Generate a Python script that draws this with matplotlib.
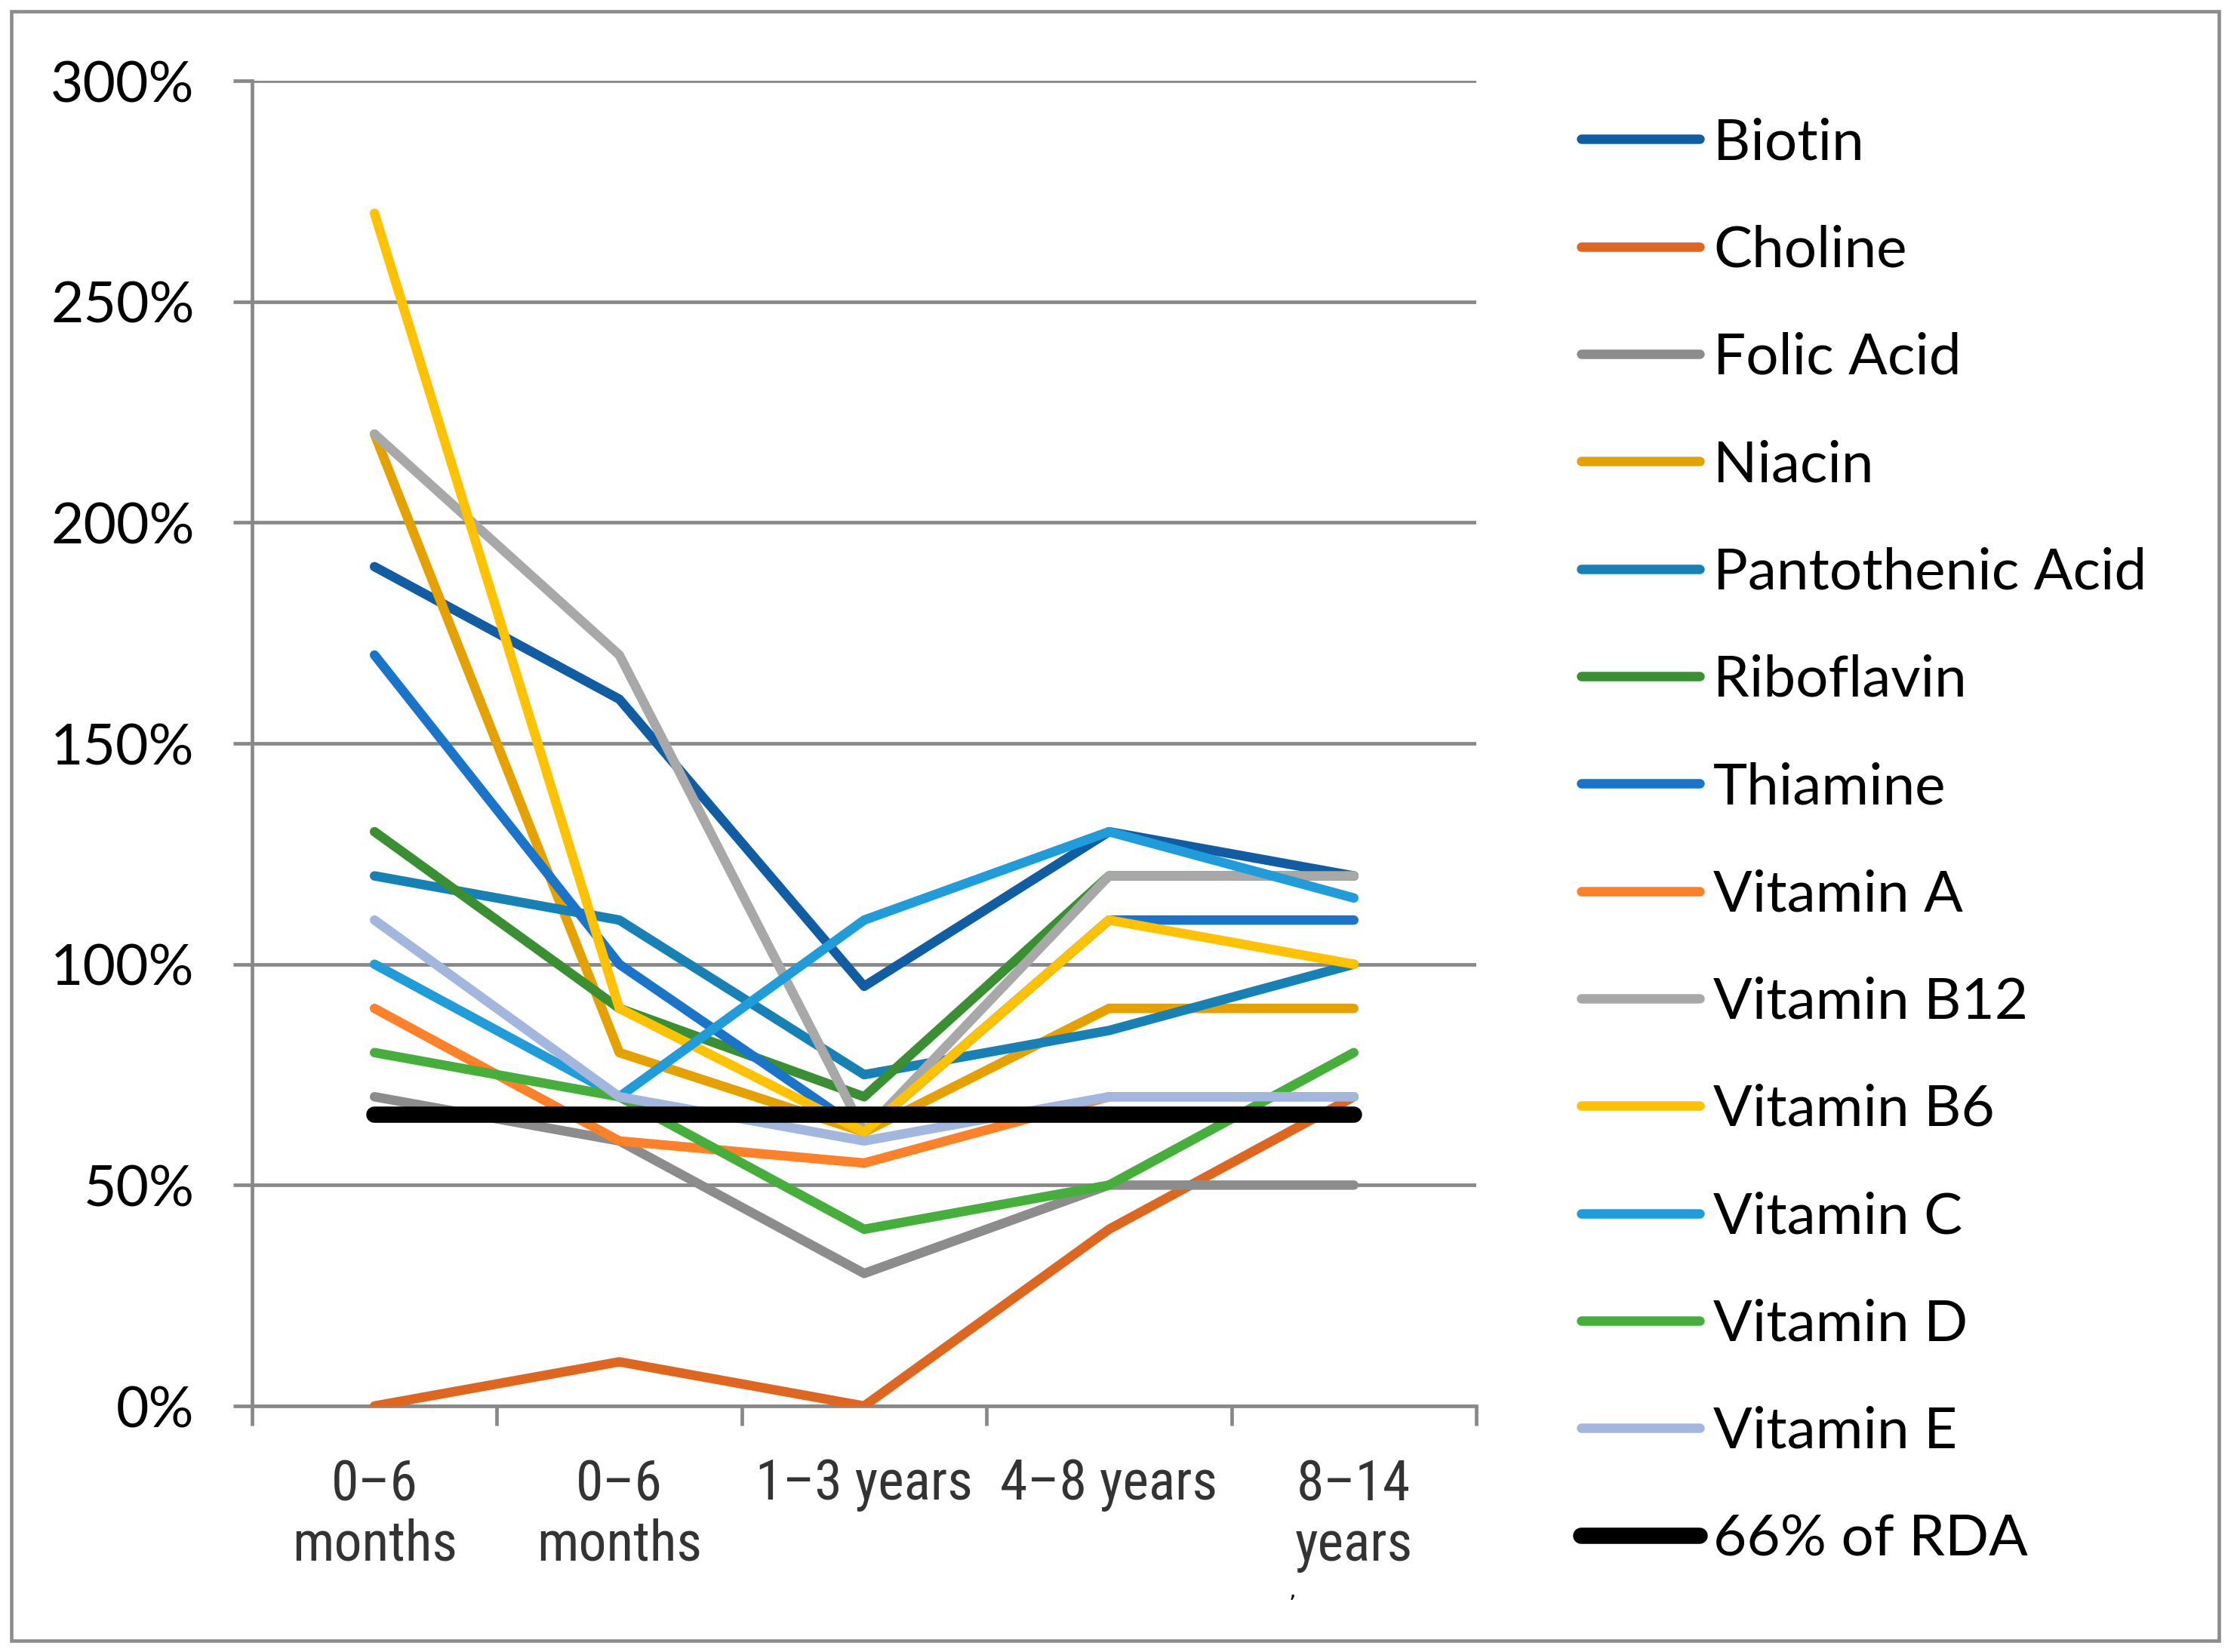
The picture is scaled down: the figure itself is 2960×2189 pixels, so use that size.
import matplotlib
matplotlib.use("Agg")
import matplotlib.pyplot as plt
from matplotlib.patches import Rectangle
from matplotlib.ticker import FixedLocator, PercentFormatter
from matplotlib import font_manager

categories = ["0–6\nmonths", "0–6\nmonths", "1–3 years", "4–8 years", "8–14\nyears"]

biotin = [190, 160, 95, 130, 120]
choline = [0, 10, 0, 40, 70]
folic_acid = [70, 60, 30, 50, 50]
niacin = [220, 80, 62, 90, 90]
pantothenic_acid = [120, 110, 75, 85, 100]
riboflavin = [130, 90, 70, 120, 120]
thiamine = [170, 100, 62, 110, 110]
vitamin_a = [90, 60, 55, 70, 70]
vitamin_b12 = [220, 170, 62, 120, 120]
vitamin_b6 = [270, 90, 62, 110, 100]
vitamin_c = [100, 70, 110, 130, 115]
vitamin_d = [80, 70, 40, 50, 80]
vitamin_e = [110, 70, 60, 70, 70]
rda_66 = [66, 66, 66, 66, 66]

series_names = ["Biotin", "Choline", "Folic Acid", "Niacin", "Pantothenic Acid",
                "Riboflavin", "Thiamine", "Vitamin A", "Vitamin B12", "Vitamin B6",
                "Vitamin C", "Vitamin D", "Vitamin E", "66% of RDA"]
series_values = [biotin, choline, folic_acid, niacin, pantothenic_acid, riboflavin,
                 thiamine, vitamin_a, vitamin_b12, vitamin_b6, vitamin_c, vitamin_d,
                 vitamin_e, rda_66]
colors = ["#115DA4", "#DE661E", "#8C8C8C", "#E5A100", "#1781B5", "#3A8F32",
          "#1A74C9", "#FD8128", "#A8A8A8", "#FFC200", "#1F9CD9", "#46AF3C",
          "#A2B6DE", "#000000"]
yticks = [0, 50, 100, 150, 200, 250, 300]

# pick a condensed face for the category labels if one is installed
narrow_family = None
names = {f.name for f in font_manager.fontManager.ttflist}
for cand in ["Liberation Sans Narrow", "Roboto Condensed", "Open Sans Condensed",
             "DejaVu Sans Condensed"]:
    if cand in names:
        narrow_family = cand
        break
cond_faces = [f for f in font_manager.fontManager.ttflist
              if f.stretch in ("condensed", "semi-condensed", 500 - 125, 375)
              or "ondensed" in f.fname]
if narrow_family is None and cond_faces:
    narrow_family = cond_faces[0].name

W, H = 2960, 2189
fig = plt.figure(figsize=(W / 100, H / 100), dpi=100)
fig.patch.set_facecolor("white")

ax = fig.add_axes([334 / W, 1 - 1863 / H, (1956 - 334) / W, (1863 - 107) / H])
x = list(range(len(categories)))
handles = []
for name, vals, col in zip(series_names, series_values, colors):
    lw = 15.5 if name == "66% of RDA" else 9.0
    (ln,) = ax.plot(x, vals, color=col, lw=lw, solid_capstyle="round",
                    solid_joinstyle="round", label=name, zorder=3)
    handles.append(ln)

ax.set_xlim(-0.5, len(categories) - 0.5)
ax.set_ylim(0, 300)
ax.set_yticks(yticks)
ax.yaxis.set_major_formatter(PercentFormatter(decimals=0))
ax.grid(axis="y", color="#888888", lw=3.4, zorder=1)
ax.set_axisbelow(True)
for s in ["top", "right"]:
    ax.spines[s].set_visible(False)
for s in ["left", "bottom"]:
    ax.spines[s].set_color("#888888")
    ax.spines[s].set_linewidth(3.4)
    ax.spines[s].set_zorder(2)

xfam = [narrow_family, "Lato", "DejaVu Sans"] if narrow_family else ["Lato", "DejaVu Sans"]
xsize = 53 if narrow_family else 46
ax.set_xticks(x)
ax.set_xticklabels(categories, family=xfam, fontstretch="condensed",
                   fontsize=xsize, color="#333333", linespacing=1.15)
ax.xaxis.set_minor_locator(FixedLocator([i - 0.5 for i in range(len(categories) + 1)]))
ax.tick_params(axis="x", which="major", length=0, pad=50)
ax.tick_params(axis="x", which="minor", length=19, width=3.4, color="#888888")
ax.tick_params(axis="y", which="major", length=18, width=3.4, color="#888888", pad=37)
for lab in ax.get_yticklabels():
    lab.set_family(["Lato", "DejaVu Sans"])
    lab.set_fontsize(54)

leg = fig.legend(handles=handles, labels=series_names, loc="upper left",
                 bbox_to_anchor=(2095 / W, 1 - 155 / H), frameon=False,
                 prop={"family": ["Lato", "DejaVu Sans"], "size": 55},
                 handlelength=2.06, handletextpad=0.23, labelspacing=0.96,
                 borderpad=0, borderaxespad=0)

fig.text(1712 / W, 1 - 2108 / H, ",", fontsize=22, color="black",
         ha="center", va="center")

fig.add_artist(Rectangle((15 / W, 1 - 2174 / H), (2940 - 15) / W, (2174 - 15) / H,
                         transform=fig.transFigure, fill=False,
                         edgecolor="#8C8C8C", lw=3.3))

fig.savefig("out.png", dpi=100, facecolor="white")
